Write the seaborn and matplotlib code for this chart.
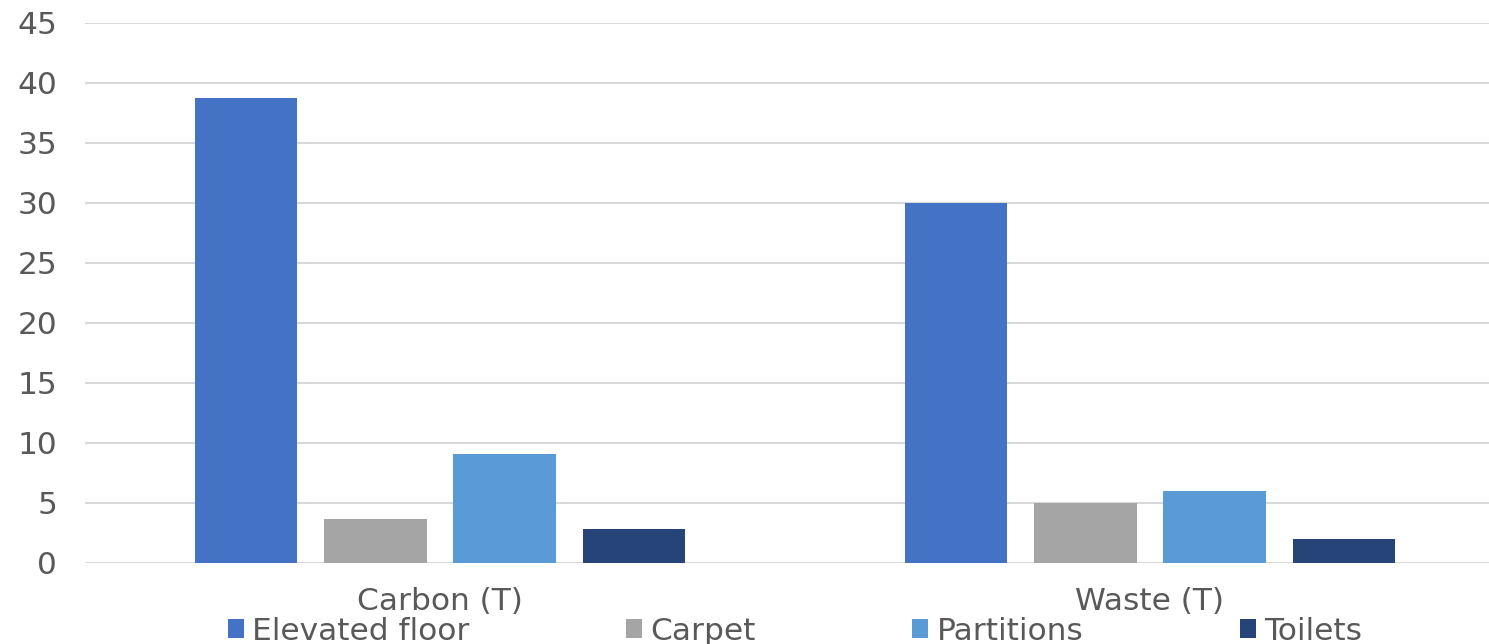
import matplotlib
matplotlib.use("Agg")
import matplotlib.pyplot as plt
import seaborn as sns
import pandas as pd

categories = ["Carbon (T)", "Waste (T)"]
materials = ["Elevated floor", "Carpet", "Partitions", "Toilets"]
elevated_floor = [38.75, 30.0]
carpet = [3.65, 5.0]
partitions = [9.05, 6.0]
toilets = [2.8, 2.0]
colors = ["#4472C4", "#A5A5A5", "#5B9BD5", "#264478"]
yticks = [0, 5, 10, 15, 20, 25, 30, 35, 40, 45]

series = {"Elevated floor": elevated_floor, "Carpet": carpet,
          "Partitions": partitions, "Toilets": toilets}
rows = []
for m in materials:
    for c, v in zip(categories, series[m]):
        rows.append({"category": c, "material": m, "value": v})
df = pd.DataFrame(rows)

sns.set_theme(style="white")
plt.rcParams["font.family"] = ["DejaVu Sans"]

W, H = 1489, 644
fig = plt.figure(figsize=(W / 100, H / 100), dpi=100)
ax = fig.add_axes([85 / W, (H - 563) / H, 1420 / W, 540 / H])

sns.barplot(data=df, x="category", y="value", hue="material",
            hue_order=materials, order=categories, palette=colors,
            width=0.727, gap=0.209, saturation=1, linewidth=0,
            ax=ax, legend=True)

ax.set_ylim(0, 45)
ax.set_xlim(-0.5, 1.5)
ax.set_yticks(yticks)
ax.yaxis.grid(True, color="#D9D9D9", linewidth=1.5)
ax.set_axisbelow(True)
for s in ["top", "right", "left", "bottom"]:
    ax.spines[s].set_visible(False)
ax.set_xlabel("")
ax.set_ylabel("")
ax.tick_params(axis="y", length=0, pad=20, labelsize=22.5, labelcolor="#595959")
ax.tick_params(axis="x", length=0, pad=17, labelsize=22.5, labelcolor="#595959")

handles, labels = ax.get_legend_handles_labels()
ax.get_legend().remove()
fig.legend(handles, labels, loc="center", bbox_to_anchor=(795 / W, 13 / H),
           ncol=4, frameon=False, fontsize=22.5, labelcolor="#595959",
           handlelength=0.52, handleheight=0.52, handletextpad=0.26,
           columnspacing=5.0, borderaxespad=0, borderpad=0)

fig.savefig("out.png", dpi=100)
